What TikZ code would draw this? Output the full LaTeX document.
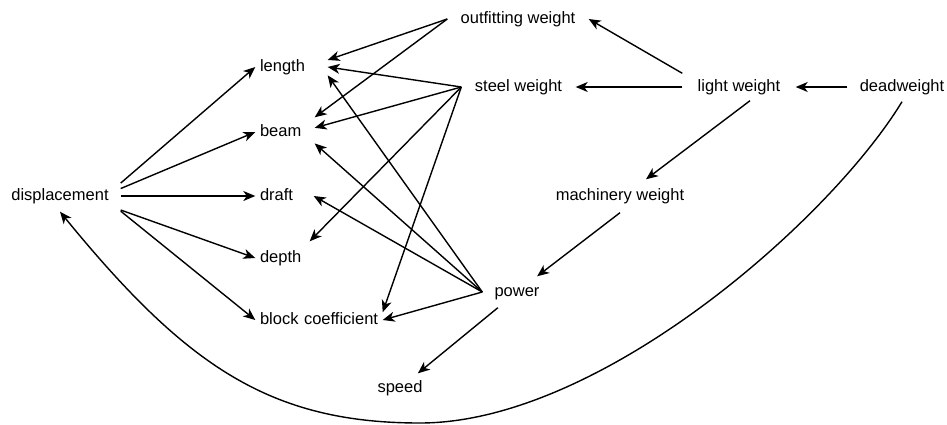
\documentclass[tikz,border=0pt]{standalone}
\usepackage{fontspec}
\setmainfont{Liberation Sans}
\usetikzlibrary{arrows.meta}

\begin{document}
\begin{tikzpicture}[x=1pt,y=-1pt,>={Stealth[length=12pt,width=10pt,inset=3.5pt]},line width=1.4pt,
	every node/.style={font=\fontsize{16.5}{20}\selectfont,inner sep=0pt,text height=12pt,text depth=3.5pt,minimum height=30pt},
	col/.style={text width=#1,align=left,inner xsep=4pt}]
	\useasboundingbox (0,0) rectangle (947,424);
	\node[minimum width=120pt]                     (disp)   at (60,196)    {displacement};
	\node[col=63pt,minimum height=32pt]            (len)    at (291.5,67)  {length};
	\node[col=50pt,minimum height=28pt]            (beam)   at (285,132)   {beam};
	\node[col=49pt]                                (draft)  at (284.5,196) {draft};
	\node[col=45pt,minimum height=32pt]            (depth)  at (282.5,258) {depth};
	\node[col=118pt,minimum height=32pt]           (block)  at (319,320)   {\mbox{block coefficient}};
	\node[minimum width=140pt]                     (outfit) at (518,19)    {outfitting weight};
	\node[minimum width=113pt,minimum height=26pt] (steel)  at (518.5,87)  {steel weight};
	\node[minimum width=112pt,minimum height=26pt] (light)  at (739,87)    {light weight};
	\node[minimum width=108pt,minimum height=28pt] (dead)   at (902,87)    {deadweight};
	\node[minimum width=140pt,minimum height=32pt] (mach)   at (620,196)   {machinery weight};
	\node[minimum width=68pt]                      (power)  at (517,292)   {power};
	\node[minimum width=60pt,minimum height=28pt]  (speed)  at (400,388)   {speed};
	\coordinate (low) at (420,423);
	
	\path[->]
	(disp.12) edge (len.west)
	(disp.7) edge (beam.west)
	(disp.east) edge (draft.west)
	(disp.-13) edge (depth.west)
	(disp.-14) edge (block.west)
	(outfit.west) edge (len.11)
	edge (beam.north east)
	(steel.west) edge (len.east)
	edge (beam.8)
	edge (depth.north east)
	edge (block.7)
	(power.west) edge (len.-13)
	edge (beam.-21)
	edge (draft.east)
	edge (block.east)
	(power) edge (speed)
	(light.north west) edge (outfit.east)
	(light.west) edge (steel.east)
	([xshift=11pt]light.south) edge ([xshift=26pt]mach.north)
	(mach.south) edge (power.38)
	(dead.west) edge (light.east);
	\draw[->] (dead.south) .. controls (830,220) and (600,423) .. (low)
	.. controls (270,423) and (186,366) .. (disp.south);
\end{tikzpicture}
\end{document}
